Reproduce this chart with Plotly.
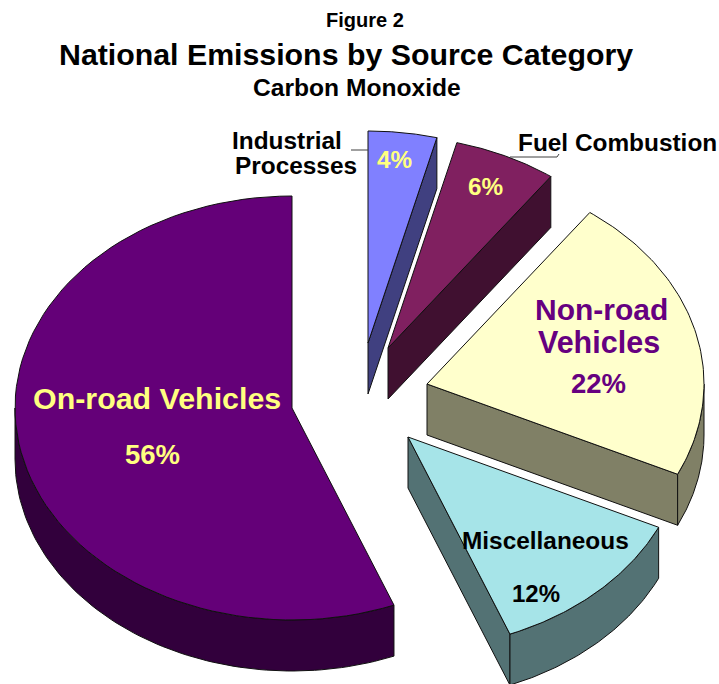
import numpy as np
import plotly.graph_objects as go

# --- data ---
categories = ["Industrial Processes", "Fuel Combustion", "Non-road Vehicles", "Miscellaneous", "On-road Vehicles"]
shares = [4, 6, 22, 12, 56]
percent_labels = ["4%", "6%", "22%", "12%", "56%"]

# --- styles / layout ---
top_colors = ["#8080FF", "#802060", "#FFFFCC", "#A6E4E8", "#640078"]
side_colors = ["#404080", "#401030", "#808066", "#537274", "#32003C"]
apex_x = [368, 388, 427, 408, 292]
apex_y = [343, 348, 384, 437, 408]
draw_order = [4, 0, 1, 2, 3]
RX, RY, DEPTH = 277, 212, 51
FONT = "Liberation Sans, Arial, sans-serif"

fig = go.Figure()


def poly(xs, ys, color):
    fig.add_trace(go.Scatter(
        x=xs, y=ys, mode="lines", fill="toself", fillcolor=color,
        line=dict(color="#101010", width=1), hoverinfo="skip", showlegend=False))


def rim(cx, cy, a0, a1, n=80):
    t = np.radians(np.linspace(a0, a1, n))
    return cx + RX * np.sin(t), cy - RY * np.cos(t)


edges = np.concatenate([[0], np.cumsum(shares)]) * 3.6
for i in draw_order:
    a0, a1 = edges[i], edges[i + 1]
    cx, cy = apex_x[i], apex_y[i]
    # side wall along the clockwise radial edge
    if 0 < a1 < 180:
        ex, ey = rim(cx, cy, a1, a1, 1)
        poly([cx, ex[0], ex[0], cx, cx], [cy, ey[0], ey[0] + DEPTH, cy + DEPTH, cy], side_colors[i])
    # outer curved wall
    lo, hi = max(a0, 90), min(a1, 270)
    if hi > lo:
        rx, ry = rim(cx, cy, lo, hi)
        poly(np.concatenate([rx, rx[::-1], rx[:1]]),
             np.concatenate([ry, ry[::-1] + DEPTH, ry[:1]]), side_colors[i])
    # top face
    rx, ry = rim(cx, cy, a0, a1)
    poly(np.concatenate([[cx], rx, [cx]]), np.concatenate([[cy], ry, [cy]]), top_colors[i])

# leader lines
for lx, ly in [([351, 368], [150, 150]), ([510, 557, 559], [157, 157, 154])]:
    fig.add_trace(go.Scatter(x=lx, y=ly, mode="lines", line=dict(color="#404040", width=1),
                             hoverinfo="skip", showlegend=False))


def label(x, y, text, size, color="#000000", bold=True):
    fig.add_annotation(x=x, y=y, text=f"<b>{text}</b>" if bold else text, showarrow=False,
                       xanchor="center", yanchor="middle",
                       font=dict(family=FONT, size=size, color=color))


YEL = "#FFFF80"
PUR = "#660080"
label(365, 20, "Figure 2", 20)
label(345.5, 54, "National Emissions by Source Category", 30.3)
label(357, 87, "Carbon Monoxide", 24.6)
label(287, 140, "Industrial", 24.4)
label(295.5, 165, "Processes", 24.4)
label(617, 142, "Fuel Combustion", 24.4)
label(394.5, 159, percent_labels[0], 24.3, YEL)
label(485.5, 186, percent_labels[1], 24.3, YEL)
label(601, 309, "Non-road", 30, PUR)
label(598.5, 342, "Vehicles", 30.5, PUR)
label(598.5, 383, percent_labels[2], 27.5, PUR)
label(545, 540, "Miscellaneous", 24.4)
label(536, 593, percent_labels[3], 24, "#000000")
label(157, 398, "On-road Vehicles", 30.4, YEL)
label(152.5, 454, percent_labels[4], 27.5, YEL)

fig.update_xaxes(range=[0, 719], visible=False, fixedrange=True)
fig.update_yaxes(range=[684, 0], visible=False, fixedrange=True)
fig.update_layout(width=719, height=684, margin=dict(l=0, r=0, t=0, b=0),
                  paper_bgcolor="white", plot_bgcolor="white", showlegend=False)
fig.write_html("out.html", config={"displayModeBar": False},
               post_script="document.body.style.margin='0';")
